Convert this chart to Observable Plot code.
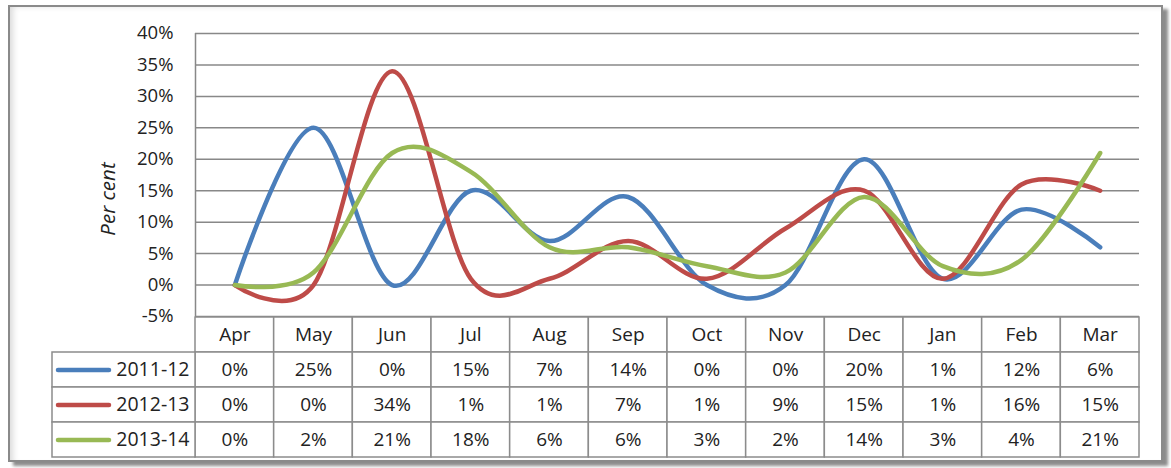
<!DOCTYPE html>
<html><head><meta charset="utf-8">
<script src="https://cdn.jsdelivr.net/npm/d3@7"></script>
<script src="https://cdn.jsdelivr.net/npm/@observablehq/plot@0.6"></script>
<style>
body{margin:0;background:#fff;width:1171px;height:468px;position:relative;overflow:hidden;font-family:"Open Sans",sans-serif}
#frame{position:absolute;left:8px;top:5px;width:1151px;height:453px;border:2px solid #8a8a8a;box-shadow: inset 6px 2px 6px -3px rgba(0,0,0,0.15), 5px 4px 3px rgba(0,0,0,0.45);}
#chart{position:absolute;left:0;top:0}
#table{position:absolute;left:0;top:315px}
</style></head><body>
<div id="frame"></div><div id="chart"></div><div id="table"></div>
<script>
const months = ["Apr","May","Jun","Jul","Aug","Sep","Oct","Nov","Dec","Jan","Feb","Mar"];
const seriesNames = ["2011-12","2012-13","2013-14"];
const values2011_12 = [0,25,0,15,7,14,0,0,20,1,12,6];
const values2012_13 = [0,0,34,1,1,7,1,9,15,1,16,15];
const values2013_14 = [0,2,21,18,6,6,3,2,14,3,4,21];
const seriesColors = ["#4A7EBB","#BE4B48","#98B954"];
const yTicks = [-5,0,5,10,15,20,25,30,35,40];

const allValues = [values2011_12, values2012_13, values2013_14];
const W = 1171, plotLeft = 195, plotRight = 1139, legendLeft = 52;
const step = (plotRight - plotLeft) / months.length;
const px2x = p => -0.5 + (p - plotLeft) / step;
const font = '"Open Sans", sans-serif';
const ink = "#222222";
const gridColor = "#888888";

const rows = seriesNames.flatMap((s, k) => allValues[k].map((v, i) => ({series: s, i, month: months[i], v})));

const chart = Plot.plot({
  width: W, height: 317,
  marginLeft: plotLeft, marginRight: W - plotRight, marginTop: 33, marginBottom: 1,
  style: {fontFamily: font, fontSize: "18.5px", color: ink, background: "transparent", overflow: "visible"},
  x: {domain: [-0.5, months.length - 0.5], axis: null},
  y: {domain: [-5, 40], ticks: yTicks, tickFormat: d => d + "%", tickSize: 0, tickPadding: 22, label: null},
  color: {domain: seriesNames, range: seriesColors},
  marks: [
    Plot.ruleY(yTicks, {stroke: gridColor, strokeWidth: 1.5, strokeOpacity: 1}),
    Plot.ruleX([-0.5], {stroke: gridColor, strokeWidth: 1.5, strokeOpacity: 1}),
    Plot.line(rows, {x: "i", y: "v", z: "series", stroke: "series", strokeWidth: 4.5, curve: "cardinal", strokeLinecap: "round", strokeLinejoin: "round"}),
    Plot.text(["Per cent"], {frameAnchor: "left", textAnchor: "middle", dx: -87, dy: 24, rotate: -90, fontStyle: "italic", fontSize: 20.5, fill: ink})
  ]
});
document.getElementById("chart").append(chart);

const tableRowKeys = ["", ...seriesNames];
const cellData = [
  ...months.map((m, i) => ({row: "", i, label: m})),
  ...rows.map(d => ({row: d.series, i: d.i, label: d.v + "%"}))
];
const cellStroke = "#8c8c8c";
const table = Plot.plot({
  width: W, height: 143,
  marginLeft: legendLeft, marginRight: W - plotRight, marginTop: 1, marginBottom: 1,
  style: {fontFamily: font, fontSize: "19px", color: ink, background: "transparent", overflow: "visible"},
  x: {domain: [px2x(legendLeft), months.length - 0.5], axis: null},
  y: {domain: tableRowKeys, axis: null, padding: 0},
  color: {domain: seriesNames, range: seriesColors},
  marks: [
    Plot.barX(cellData, {x1: d => d.i - 0.5, x2: d => d.i + 0.5, y: "row", fill: "white", stroke: cellStroke, strokeWidth: 1.5}),
    Plot.barX(seriesNames, {x1: () => px2x(legendLeft), x2: () => -0.5, y: d => d, fill: "white", stroke: cellStroke, strokeWidth: 1.5}),
    Plot.text(cellData, {x: "i", y: "row", text: "label", fill: ink, fontSize: 19}),
    Plot.text(seriesNames, {x: () => -0.5, y: d => d, text: d => d, textAnchor: "end", dx: -6, fill: ink, fontSize: 19.5}),
    Plot.ruleY(seriesNames, {y: d => d, x1: () => px2x(58), x2: () => px2x(109), stroke: d => d, strokeWidth: 4.5, strokeLinecap: "round"})
  ]
});
document.getElementById("table").append(table);
</script>
</body></html>
